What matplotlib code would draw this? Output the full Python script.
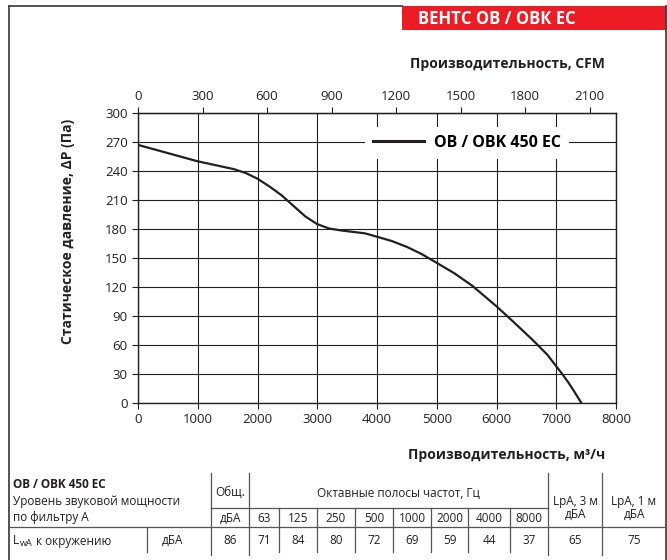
import numpy as np
import matplotlib.pyplot as plt
from matplotlib.lines import Line2D
from matplotlib.patches import Rectangle

plt.rcParams['font.family'] = ['Open Sans', 'DejaVu Sans']

# fan curve, m3/h vs Pa
flow = [0, 500, 1000, 1300, 1600, 1800, 2000, 2200, 2400, 2600, 2800, 3000,
        3200, 3400, 3600, 3800, 4000, 4250, 4500, 4750, 5000, 5300, 5600, 6000,
        6300, 6600, 6850, 7000, 7100, 7200, 7300, 7420]
pressure = [267, 258.5, 250, 246, 242, 238, 232, 224, 215, 204, 193, 185,
            180.5, 178.5, 177, 175.5, 172, 167.5, 161.5, 154, 145, 134, 121, 100,
            83, 65.5, 50, 38, 30, 21.5, 12, 0]
model = "OB / OBK 450 EC"

bands = ["63", "125", "250", "500", "1000", "2000", "4000", "8000"]
band_levels = [71, 84, 80, 72, 69, 59, 44, 37]
total_level = 86
lpa_3m = 65
lpa_1m = 75

ink = "#231f20"
W, H = 667, 560
fig = plt.figure(figsize=(W / 100, H / 100), dpi=100)

# overlay axes in pixel coordinates for frame and table
ov = fig.add_axes([0, 0, 1, 1])
ov.set_xlim(0, W)
ov.set_ylim(H, 0)
ov.axis("off")

def hline(y, x0, x1, c="#555555", lw=0.9):
    ov.add_line(Line2D([x0, x1], [y, y], color=c, lw=lw))

def vline(x, y0, y1, c="#555555", lw=0.9):
    ov.add_line(Line2D([x, x], [y0, y1], color=c, lw=lw))

# frame and red header
hline(6, 9, 402, c="#444444", lw=1.3)
vline(9, 6, 560, c="#444444", lw=1.3)
vline(666, 6, 560, c="#444444", lw=1.3)
ov.add_patch(Rectangle((402, 6), 265, 24, color="#ed1c24", lw=0))
ov.text(418, 18.5, "ВЕНТС ОВ / ОВК ЕС", color="white", fontsize=12,
        fontweight="bold", va="center", ha="left")

# main chart
ax = fig.add_axes([138 / W, 1 - 403 / H, 478 / W, 290 / H])
ax.plot(flow, pressure, color=ink, lw=1.6, label=model, solid_joinstyle="round")
ax.set_xlim(0, 8000)
ax.set_ylim(0, 300)
ax.set_xticks(np.arange(0, 8001, 1000))
ax.set_yticks(np.arange(0, 301, 30))
ax.grid(True, color=ink, lw=0.8)
for s in ax.spines.values():
    s.set_color(ink)
    s.set_linewidth(1.0)
ax.tick_params(labelsize=9.5, length=4, color=ink, labelcolor=ink, direction="out", width=0.8)
ax.set_xlabel("Производительность, м³/ч", fontsize=10, fontweight="bold", color=ink)
ax.xaxis.set_label_coords(0.772, -0.155)
ax.set_ylabel("Статическое давление, ΔР (Па)", fontsize=10, fontweight="bold", color=ink)
ax.yaxis.set_label_coords(-0.132, 0.59)

top = ax.secondary_xaxis("top", functions=(lambda x: x / 3.6, lambda x: x * 3.6))
top.set_xticks(np.arange(0, 2101, 300))
top.tick_params(labelsize=9.5, length=4, color=ink, labelcolor=ink, width=0.8)
ov.text(507, 64, "Производительность, CFM", fontsize=10, fontweight="bold",
        color=ink, ha="center", va="center")

leg = ax.legend(loc="center", bbox_to_anchor=(0.688, 0.898), frameon=True,
                fancybox=False, edgecolor="none", facecolor="white", framealpha=1,
                handlelength=3.2, handletextpad=0.6, borderpad=0.5, borderaxespad=0,
                prop={"weight": "bold", "size": 11.5})
leg.get_lines()[0].set_linewidth(2.2)

# sound table
hline(508, 211, 548)
hline(527, 9, 666)
for x in [211, 249, 548, 602]:
    vline(x, 473, 555)
vline(147, 527, 552)
col_edges = [249, 279, 317, 355, 393, 431, 468, 510, 548]
for x in col_edges[1:-1]:
    vline(x, 508, 552)

fs = 8.5
ov.text(13, 485, model, fontsize=fs, fontweight="bold", color=ink, va="center")
ov.text(13, 502, "Уровень звуковой мощности", fontsize=fs, color=ink, va="center")
ov.text(13, 518, "по фильтру А", fontsize=fs, color=ink, va="center")
ov.text(13, 541, "L", fontsize=fs, color=ink, va="center")
ov.text(19.5, 544, "wA", fontsize=6.5, color=ink, va="center")
ov.text(36, 541, "к окружению", fontsize=fs, color=ink, va="center")
ov.text(172, 540, "дБА", fontsize=fs, color=ink, va="center", ha="center")
ov.text(230, 492, "Общ.", fontsize=fs, color=ink, va="center", ha="center")
ov.text(230, 518, "дБА", fontsize=fs, color=ink, va="center", ha="center")
ov.text(230, 540, str(total_level), fontsize=fs, color=ink, va="center", ha="center")
ov.text(398, 493, "Октавные полосы частот, Гц", fontsize=fs, color=ink, va="center", ha="center")
for i, (b, v) in enumerate(zip(bands, band_levels)):
    cx = (col_edges[i] + col_edges[i + 1]) / 2
    ov.text(cx, 519, b, fontsize=fs, color=ink, va="center", ha="center")
    ov.text(cx, 540, str(v), fontsize=fs, color=ink, va="center", ha="center")
ov.text(575, 502, "LpA, 3 м", fontsize=fs, color=ink, va="center", ha="center")
ov.text(575, 514, "дБА", fontsize=fs, color=ink, va="center", ha="center")
ov.text(575, 540, str(lpa_3m), fontsize=fs, color=ink, va="center", ha="center")
ov.text(634, 502, "LpA, 1 м", fontsize=fs, color=ink, va="center", ha="center")
ov.text(634, 514, "дБА", fontsize=fs, color=ink, va="center", ha="center")
ov.text(634, 540, str(lpa_1m), fontsize=fs, color=ink, va="center", ha="center")

fig.savefig("out.png", dpi=100)
